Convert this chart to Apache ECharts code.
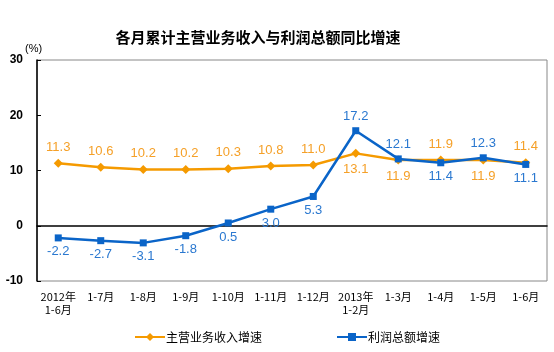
<!DOCTYPE html>
<html>
<head>
<meta charset="utf-8">
<script src="https://cdn.jsdelivr.net/npm/echarts@6/dist/echarts.min.js"></script>
<style>
  html, body { margin: 0; padding: 0; background: #fff; }
  #chart { width: 554px; height: 352px; }
</style>
</head>
<body>
<div id="chart"></div>
<script>
// 数据
var months = ['2012年\n1-6月', '1-7月', '1-8月', '1-9月', '1-10月', '1-11月', '1-12月',
              '2013年\n1-2月', '1-3月', '1-4月', '1-5月', '1-6月'];
var revenueGrowth = [11.3, 10.6, 10.2, 10.2, 10.3, 10.8, 11.0, 13.1, 11.9, 11.9, 11.9, 11.4];
var profitGrowth = [-2.2, -2.7, -3.1, -1.8, 0.5, 3.0, 5.3, 17.2, 12.1, 11.4, 12.3, 11.1];
// 标签位置
var revenueLabelPos = ['top', 'top', 'top', 'top', 'top', 'top', 'top', 'bottom', 'bottom', 'top', 'bottom', 'top'];
var profitLabelPos = ['bottom', 'bottom', 'bottom', 'bottom', 'bottom', 'bottom', 'bottom', 'top', 'top', 'bottom', 'top', 'bottom'];
var profitLabelShift = [0, 0, 0, -3, -7, -8, 0, 0, 0, 0, 0, 0];
var profitLabelDrop = [0, 0, 0, 0, 1, 2, 0, 0, 0, 0, 0, 0];

var orange = '#f59a00';
var blue = '#0a64c8';
var font = 'Arial, "Noto Sans CJK SC", sans-serif';

function withLabels(values, pos, shift, drop) {
    return values.map(function (v, i) {
        return { value: v, label: { position: pos[i], offset: [shift ? shift[i] : 0, drop ? drop[i] : 0] } };
    });
}

var chart = echarts.init(document.getElementById('chart'));
var option = {
    animation: false,
    title: {
        text: '各月累计主营业务收入与利润总额同比增速',
        left: 253,
        textAlign: 'center',
        top: 25,
        textStyle: { fontSize: 15, fontWeight: 'bold', color: '#000', fontFamily: '"Noto Sans CJK SC", sans-serif' }
    },
    legend: {
        left: 129,
        top: 326,
        itemWidth: 30,
        itemHeight: 10,
        itemGap: 74,
        textStyle: { fontSize: 12, color: '#000', padding: [0, 0, 0, -4], fontFamily: '"Noto Sans CJK SC", sans-serif' },
        data: ['主营业务收入增速', '利润总额增速']
    },
    grid: {
        left: 37, right: 7, top: 60, bottom: 71,
        show: true, borderColor: '#888', borderWidth: 1
    },
    xAxis: {
        type: 'category',
        data: months,
        boundaryGap: true,
        axisLine: { lineStyle: { color: '#000', width: 1.5 } },
        axisTick: { inside: true, length: 4, lineStyle: { color: '#000' } },
        axisLabel: { interval: 0, fontSize: 11, color: '#000', margin: 9, lineHeight: 13, fontFamily: '"Noto Sans CJK SC", sans-serif' }
    },
    yAxis: {
        type: 'value',
        min: -10, max: 30, interval: 10,
        name: '(%)',
        nameGap: 4,
        nameTextStyle: { fontSize: 11, color: '#000', align: 'left', padding: [0, 0, 0, -12] },
        splitLine: { show: false },
        axisLine: { show: true, lineStyle: { color: '#000', width: 1.5 } },
        axisTick: { show: true, inside: true, length: 4, lineStyle: { color: '#000' } },
        axisLabel: { fontSize: 12, color: '#000', fontWeight: 'bold', margin: 14, fontFamily: font }
    },
    series: [
        {
            name: '主营业务收入增速',
            type: 'line',
            data: withLabels(revenueGrowth, revenueLabelPos),
            symbol: 'diamond',
            symbolSize: 9,
            lineStyle: { color: orange, width: 2.5 },
            itemStyle: { color: orange },
            label: {
                show: true, distance: 5, fontSize: 13, color: '#f5a028', fontFamily: font,
                formatter: function (p) { return p.value.toFixed(1); }
            },
            z: 2
        },
        {
            name: '利润总额增速',
            type: 'line',
            data: withLabels(profitGrowth, profitLabelPos, profitLabelShift, profitLabelDrop),
            symbol: 'rect',
            symbolSize: 7,
            lineStyle: { color: blue, width: 2.5 },
            itemStyle: { color: blue },
            label: {
                show: true, distance: 4, fontSize: 13, color: '#2a78d0', fontFamily: font,
                formatter: function (p) { return p.value.toFixed(1); }
            },
            labelLayout: { hideOverlap: false },
            z: 3
        }
    ]
};
chart.setOption(option);
</script>
</body>
</html>
